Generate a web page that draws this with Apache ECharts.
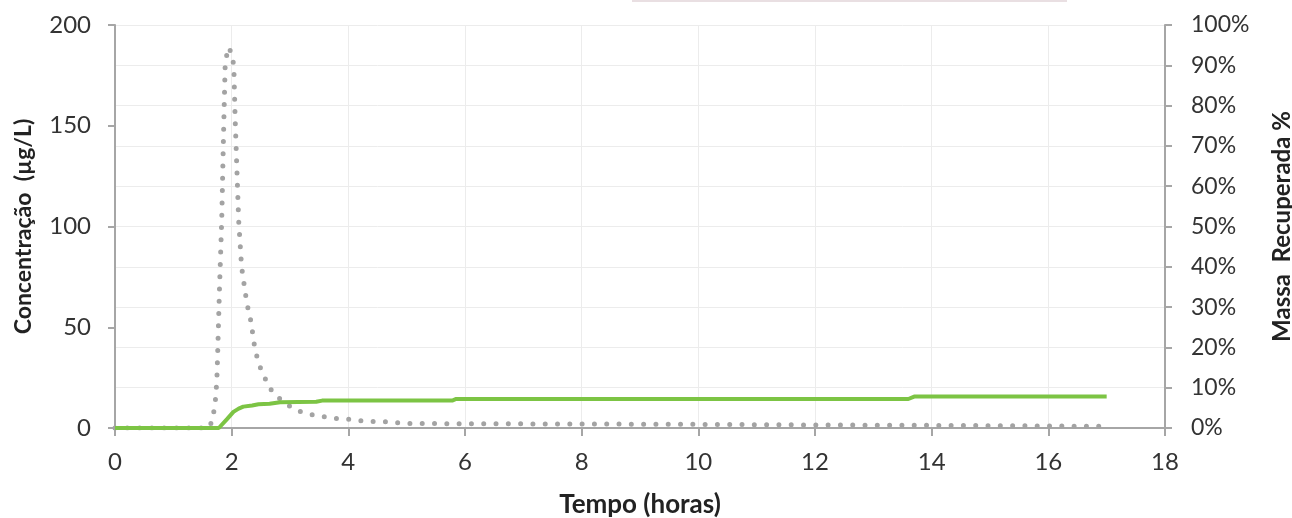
<!DOCTYPE html>
<html>
<head>
<meta charset="utf-8">
<script src="https://cdn.jsdelivr.net/npm/echarts@6/dist/echarts.min.js"></script>
<style>
  html, body { margin: 0; padding: 0; background: #fff; }
  #main { width: 1292px; height: 518px; }
</style>
</head>
<body>
<div id="main"></div>
<script>
// tempo (horas) e concentração (µg/L) - linha pontilhada cinza
var concTime = [0, 1.6, 1.66, 1.70, 1.73, 1.75, 1.79, 1.83, 1.86, 1.89, 1.95, 2.02, 2.04, 2.06, 2.09, 2.12, 2.17, 2.21, 2.26, 2.33, 2.39, 2.44, 2.51, 2.60, 2.70, 2.86, 3.04, 3.24, 3.45, 3.66, 3.87, 4.08, 4.29, 4.71, 4.93, 6, 8, 10, 12, 14, 16, 17];
var concValues = [0, 0, 3, 9, 16, 27, 68, 104, 145, 182, 189, 184, 176, 153, 128, 103, 80, 72, 62, 53, 41, 34.5, 28.4, 23, 17.7, 13.6, 10, 7.3, 6.3, 5.2, 4.4, 4.3, 3.3, 3.1, 2.3, 2.1, 2, 1.8, 1.5, 1.3, 1, 0.8];

// massa recuperada (%) - linha verde
var massTime = [0, 1.78, 1.92, 2.03, 2.12, 2.2, 2.35, 2.46, 2.65, 2.83, 3.45, 3.55, 5.78, 5.85, 13.6, 13.7, 17.0];
var massValues = [0, 0, 0.022, 0.040, 0.048, 0.053, 0.056, 0.059, 0.060, 0.064, 0.065, 0.068, 0.068, 0.072, 0.072, 0.078, 0.078];

var xTicks = [0, 2, 4, 6, 8, 10, 12, 14, 16, 18];

function pairs(xs, ys) {
	var out = [];
	for (var i = 0; i < xs.length; i++) {
		out.push([xs[i], ys[i]]);
	}
	return out;
}

var labelFont = 'Lato, "Open Sans", sans-serif';
var axisGray = '#a6a6a6';

var myChart = echarts.init(document.getElementById('main'));
var option = {
	animation: false,
	backgroundColor: '#fff',
	grid: { left: 115, right: 127, top: 25, bottom: 90, containLabel: false, outerBoundsMode: 'none' },
	graphic: [{
		type: 'line',
		shape: { x1: 632, y1: 1, x2: 1067, y2: 1 },
		style: { stroke: '#e9dfe2', lineWidth: 2 }
	}],
	xAxis: {
		type: 'value',
		min: xTicks[0],
		max: xTicks[xTicks.length - 1],
		interval: 2,
		name: 'Tempo (horas)',
		nameLocation: 'middle',
		nameGap: 64,
		nameTextStyle: { fontFamily: labelFont, fontSize: 26, fontWeight: 'bold', color: '#222' },
		axisLine: { lineStyle: { color: axisGray, width: 2 } },
		axisTick: { length: 8, lineStyle: { color: axisGray, width: 2 } },
		axisLabel: { fontFamily: labelFont, fontSize: 24, color: '#333', margin: 22 },
		splitLine: { show: true, lineStyle: { color: '#ececec', width: 1 } }
	},
	yAxis: [{
		type: 'value',
		min: 0,
		max: 200,
		interval: 50,
		name: 'Concentração  (µg/L)',
		nameLocation: 'middle',
		nameGap: 80,
		nameRotate: 90,
		nameTextStyle: { fontFamily: labelFont, fontSize: 23, fontWeight: 'bold', color: '#222' },
		axisLine: { show: true, lineStyle: { color: axisGray, width: 2 } },
		axisTick: { show: true, length: 7, lineStyle: { color: axisGray, width: 2 } },
		axisLabel: { fontFamily: labelFont, fontSize: 24, color: '#333', margin: 24 },
		splitLine: { show: false }
	}, {
		type: 'value',
		min: 0,
		max: 1,
		interval: 0.1,
		position: 'right',
		name: 'Massa  Recuperada %',
		nameLocation: 'middle',
		nameGap: 105,
		nameRotate: 90,
		nameTextStyle: { fontFamily: labelFont, fontSize: 24, fontWeight: 'bold', color: '#222' },
		axisLine: { show: true, lineStyle: { color: axisGray, width: 2 } },
		axisTick: { show: true, length: 7, lineStyle: { color: axisGray, width: 2 } },
		axisLabel: {
			fontFamily: labelFont, fontSize: 23, color: '#333', margin: 26,
			formatter: function (v) { return Math.round(v * 100) + '%'; }
		},
		splitLine: { show: true, lineStyle: { color: '#ececec', width: 1 } }
	}],
	series: [{
		name: 'Concentração',
		type: 'line',
		yAxisIndex: 0,
		data: pairs(concTime, concValues),
		showSymbol: false,
		lineStyle: { color: '#a3a3a3', width: 5, type: [0, 12.3], cap: 'round' },
		z: 3
	}, {
		name: 'Massa Recuperada',
		type: 'line',
		yAxisIndex: 1,
		data: pairs(massTime, massValues),
		showSymbol: false,
		lineStyle: { color: '#7cc444', width: 4 },
		z: 4
	}]
};
myChart.setOption(option);
</script>
</body>
</html>
